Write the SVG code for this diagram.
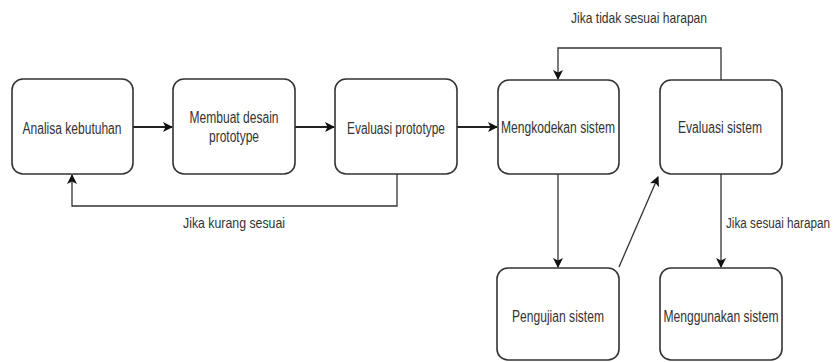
<svg xmlns="http://www.w3.org/2000/svg" width="835" height="362" viewBox="0 0 835 362">
<style>
.box{fill:#fff;stroke:#333;stroke-width:1.6}
.t{font-family:"Liberation Sans",Arial,sans-serif;font-size:16px;fill:#333;text-anchor:middle}
.lbl{font-family:"Liberation Sans",Arial,sans-serif;font-size:15px;fill:#333}
.c{fill:none;stroke:#333;stroke-width:1.3}
.ct{fill:none;stroke:#222;stroke-width:2}
</style>
<defs>
<marker id="ah2" viewBox="0 0 10 10" refX="9" refY="5" markerWidth="10" markerHeight="10" markerUnits="userSpaceOnUse" orient="auto"><path d="M0,0 L10,5 L0,10 L2.5,5 Z" fill="#111"/></marker>
</defs>
<rect width="835" height="362" fill="#fff"/>
<g id="connectors">
<line class="ct" x1="133" y1="127" x2="172" y2="127" marker-end="url(#ah2)"/>
<line class="ct" x1="295" y1="127" x2="334" y2="127" marker-end="url(#ah2)"/>
<line class="ct" x1="457" y1="127" x2="497" y2="127" marker-end="url(#ah2)"/>
<polyline class="c" points="397,174 397,206 72,206 72,175" marker-end="url(#ah2)"/>
<polyline class="c" points="721,80 721,48 558,48 558,79" marker-end="url(#ah2)"/>
<line class="c" x1="558" y1="174" x2="558" y2="267" marker-end="url(#ah2)"/>
<line class="c" x1="721" y1="174" x2="721" y2="267" marker-end="url(#ah2)"/>
<line class="c" x1="619" y1="267" x2="658" y2="177" marker-end="url(#ah2)"/>
<text class="lbl" x="183" y="228" textLength="102" lengthAdjust="spacingAndGlyphs">Jika kurang sesuai</text>
<text class="lbl" x="571" y="23" textLength="136" lengthAdjust="spacingAndGlyphs">Jika tidak sesuai harapan</text>
<text class="lbl" transform="translate(726,228) scale(0.78,1)" x="0" y="0">Jika sesuai harapan</text>
</g>
<g id="n1"><rect class="box" x="12" y="79" width="121" height="95" rx="11"/><text class="t" x="72" y="134" textLength="99" lengthAdjust="spacingAndGlyphs">Analisa kebutuhan</text></g>
<g id="n2"><rect class="box" x="173" y="79" width="122" height="95" rx="11"/><text class="t" x="234" y="123" textLength="89" lengthAdjust="spacingAndGlyphs">Membuat desain</text><text class="t" x="234" y="142" textLength="50" lengthAdjust="spacingAndGlyphs">prototype</text></g>
<g id="n3"><rect class="box" x="335" y="79" width="122" height="95" rx="11"/><text class="t" x="396" y="134" textLength="98" lengthAdjust="spacingAndGlyphs">Evaluasi prototype</text></g>
<g id="n4"><rect class="box" x="498" y="80" width="121" height="94" rx="11"/><text class="t" x="558" y="133" textLength="114" lengthAdjust="spacingAndGlyphs">Mengkodekan sistem</text></g>
<g id="n5"><rect class="box" x="660" y="80" width="122" height="94" rx="11"/><text class="t" x="720" y="133" textLength="84" lengthAdjust="spacingAndGlyphs">Evaluasi sistem</text></g>
<g id="n6"><rect class="box" x="497" y="268" width="122" height="92" rx="11"/><text class="t" x="558" y="322" textLength="92" lengthAdjust="spacingAndGlyphs">Pengujian sistem</text></g>
<g id="n7"><rect class="box" x="660" y="268" width="122" height="92" rx="11"/><text class="t" x="721" y="322" textLength="115" lengthAdjust="spacingAndGlyphs">Menggunakan sistem</text></g>
</svg>
